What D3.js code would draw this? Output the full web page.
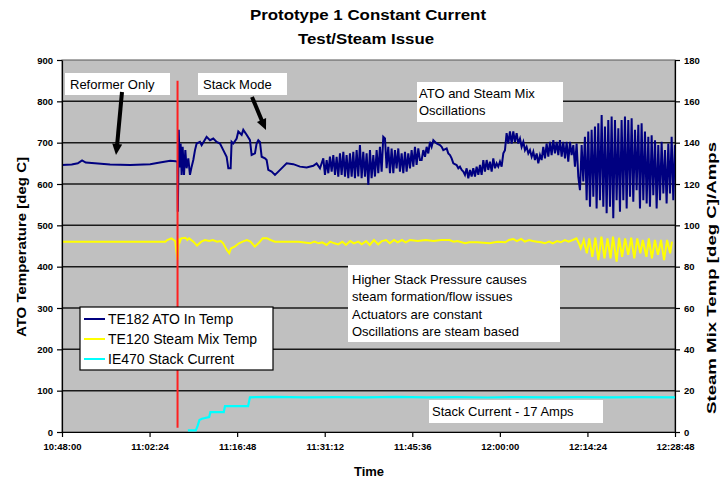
<!DOCTYPE html>
<html><head><meta charset="utf-8">
<script src="https://cdn.jsdelivr.net/npm/d3@7"></script>
<style>
html,body{margin:0;padding:0;background:#fff;}
svg{display:block;font-family:"Liberation Sans",Arial,sans-serif;}
</style></head>
<body>
<svg id="c" width="720" height="479"></svg>
<script>
// ---------- DATA ----------
const titleLines = ["Prototype 1 Constant Current", "Test/Steam Issue"];
const xTickLabels = ["10:48:00","11:02:24","11:16:48","11:31:12","11:45:36","12:00:00","12:14:24","12:28:48"];
const leftTicks = [0,100,200,300,400,500,600,700,800,900];
const rightTicks = [0,20,40,60,80,100,120,140,160,180];
const seriesNames = ["TE182 ATO In Temp","TE120 Steam Mix Temp","IE470 Stack Current"];
const seriesColors = ["#000080","#ffff00","#00ffff"];

// [minutes after 10:48:00, ATO temperature degC] (left axis)
const atoData = [[0,646],[1.6,647],[2.6,650],[3.3,657],[3.9,652],[5.4,650],[7.9,647],[11.2,646],[14.5,648],[16.1,652],[17.8,656],[18.7,655],[19.0,654],[19.05,533],[19.2,731],[19.35,640],[19.51,698],[19.67,622],[19.84,690],[20.06,622],[20.28,682],[20.49,638],[20.77,662],[21.04,622],[21.32,642],[21.59,658],[21.87,682],[22.14,698],[22.69,702],[22.96,694],[23.78,714],[24.33,706],[24.88,710],[25.43,702],[25.98,698],[26.52,682],[27.07,666],[27.35,638],[27.73,638],[27.89,702],[28.17,698],[28.72,710],[28.99,727],[29.54,719],[29.81,731],[30.36,719],[30.91,706],[31.18,670],[31.73,674],[32.0,698],[32.28,706],[32.55,702],[32.83,666],[33.38,662],[33.65,658],[33.92,634],[34.47,630],[35.02,622],[35.57,630],[36.39,642],[36.94,650],[38.03,648],[39.13,642],[40.23,640],[41.32,644],[41.87,650],[42.42,638],[42.97,662],[43.24,622],[43.52,658],[43.79,626],[44.06,666],[44.34,630],[44.61,670],[44.89,622],[45.16,666],[45.43,618],[45.71,674],[45.98,622],[46.26,678],[46.53,618],[46.80,670],[47.08,614],[47.35,674],[47.63,618],[47.90,678],[48.17,614],[48.45,682],[48.72,618],[48.99,694],[49.27,614],[49.54,678],[49.82,618],[50.09,674],[50.37,598],[50.64,682],[50.91,614],[51.19,670],[51.46,618],[51.74,682],[52.01,626],[52.28,690],[52.56,630],[52.83,714],[53.11,710],[53.38,638],[53.65,690],[53.93,626],[54.20,686],[54.48,626],[54.75,682],[55.02,638],[55.30,686],[55.57,630],[55.85,674],[56.12,626],[56.40,678],[56.67,630],[56.94,674],[57.22,638],[57.49,682],[57.77,642],[58.04,690],[58.31,646],[58.59,686],[58.86,658],[59.14,658],[59.41,682],[59.69,666],[59.96,690],[60.23,674],[60.51,702],[60.78,690],[61.06,706],[61.60,698],[62.15,694],[62.43,690],[62.70,682],[63.25,686],[63.52,674],[63.80,670],[64.07,662],[64.35,650],[64.89,646],[65.17,638],[65.44,642],[65.72,634],[65.99,630],[66.26,622],[66.54,638],[66.81,614],[67.09,634],[67.36,618],[67.63,638],[67.91,618],[68.18,642],[68.46,622],[68.73,646],[69.00,622],[69.28,658],[69.55,630],[69.83,658],[70.10,634],[70.37,654],[70.65,630],[70.92,662],[71.20,638],[71.47,650],[71.74,642],[72.02,654],[72.29,642],[72.57,674],[72.84,682],[73.11,723],[73.39,698],[73.66,727],[73.94,698],[74.21,727],[74.48,702],[74.76,723],[75.03,698],[75.31,710],[75.58,690],[75.86,702],[76.13,682],[76.40,690],[76.68,674],[76.95,682],[77.23,666],[77.50,678],[77.77,658],[78.05,674],[78.32,650],[78.60,670],[78.87,658],[79.14,690],[79.42,662],[79.69,698],[79.97,666],[80.24,702],[80.51,670],[80.79,706],[81.06,674],[81.34,702],[81.61,670],[81.88,706],[82.16,666],[82.43,702],[82.71,662],[82.98,702],[83.25,654],[83.53,702],[83.80,670],[84.08,694],[84.35,642],[84.62,698],[84.90,618],[85.17,585],[85.45,694],[85.72,606],[85.99,714],[86.27,561],[86.54,727],[86.82,545],[87.09,731],[87.37,569],[87.64,739],[87.91,541],[88.19,747],[88.46,561],[88.74,767],[89.01,545],[89.28,739],[89.56,529],[89.83,755],[90.11,545],[90.38,763],[90.65,517],[90.93,755],[91.20,561],[91.48,735],[91.75,533],[92.02,755],[92.30,561],[92.57,763],[92.85,541],[93.12,755],[93.40,569],[93.67,759],[93.94,557],[94.22,731],[94.49,585],[94.77,743],[95.04,541],[95.31,747],[95.59,561],[95.86,727],[96.14,553],[96.41,714],[96.68,545],[96.96,718],[97.23,573],[97.51,706],[97.78,541],[98.05,694],[98.33,561],[98.60,702],[98.88,577],[99.15,682],[99.42,553],[99.70,698],[99.97,577],[100.25,714],[100.52,561],[100.79,694]];

// [minutes, steam mix temp degC] (right axis)
const steamData = [[0,92.1],[17.0,92.1],[17.3,92.9],[18.0,93.7],[18.6,92.4],[19.0,83.2],[19.2,93.7],[19.3,91.3],[19.6,93.7],[20.3,94.0],[20.6,92.9],[20.9,93.7],[21.6,92.1],[22.2,90.2],[22.9,92.1],[23.5,92.9],[24.2,92.4],[24.8,92.9],[25.5,92.1],[26.1,92.4],[26.5,91.3],[27.1,88.1],[27.5,86.5],[27.8,88.9],[28.4,89.7],[29.1,91.3],[29.7,92.1],[30.4,92.9],[31.0,92.1],[31.7,89.7],[32.3,91.3],[33.0,93.7],[33.7,93.7],[34.3,92.9],[35.0,92.1],[38.9,92.1],[40.8,91.3],[41.5,92.1],[42.2,91.3],[42.8,91.8],[43.5,90.5],[44.1,92.1],[44.8,91.3],[45.4,90.8],[46.1,92.1],[46.7,90.5],[47.4,92.4],[48.0,91.3],[48.7,92.1],[49.3,90.8],[50.0,92.4],[50.6,90.5],[51.3,92.9],[52.0,90.8],[52.6,92.4],[53.3,92.9],[53.9,91.3],[54.6,92.9],[55.2,91.8],[55.9,92.9],[56.5,91.8],[57.2,92.9],[58.5,92.4],[59.8,92.9],[61.1,92.4],[62.4,92.9],[63.7,92.9],[64.4,92.1],[65.0,92.4],[66.3,91.3],[67.0,91.8],[68.3,91.8],[70.3,91.3],[71.6,92.1],[72.9,91.8],[73.5,92.9],[74.2,93.4],[74.8,92.4],[75.5,93.4],[76.1,92.1],[76.8,92.9],[77.4,92.4],[78.1,92.1],[78.8,91.8],[79.4,91.3],[80.1,92.1],[80.7,91.3],[81.4,92.4],[82.0,91.8],[82.7,92.9],[83.3,92.1],[84.0,92.9],[84.6,93.7],[85.0,91.3],[85.3,88.9],[85.8,92.9],[86.3,86.5],[86.7,93.7],[87.2,84.8],[87.7,94.0],[88.2,83.2],[88.7,94.5],[89.2,84.0],[89.7,93.7],[90.2,84.0],[90.6,94.5],[91.2,82.4],[91.6,94.0],[92.1,84.8],[92.6,93.7],[93.1,85.7],[93.6,94.0],[94.1,84.0],[94.6,93.7],[95.1,86.5],[95.5,92.9],[96.1,84.8],[96.5,93.7],[97.0,84.0],[97.5,92.9],[98.0,85.7],[98.5,92.9],[99.0,83.2],[99.5,92.9],[100.0,86.5],[100.3,92.1]];

// [minutes, stack current A] (right axis)
const currentData = [[20.7,0.8],[22.0,0.8],[22.3,3],[22.6,5.8],[23.0,6.4],[24.2,7.2],[24.4,9.6],[26.6,9.6],[26.8,12.5],[30.6,12.5],[30.9,16.8],[35,17.0],[40,16.8],[45,16.9],[50,16.8],[55,17.0],[60,16.8],[65,16.9],[70,16.7],[75,16.9],[80,16.8],[85,16.9],[90,16.8],[95,16.9],[100.8,16.8]];

// red marker: stack mode start [minutes, from, to] on left axis
const markerLine = [19.0, 10, 850];

// ---------- CHART ----------
const svg = d3.select("#c");
const L = 62, R = 675, T = 60, B = 432;
const parse = d3.timeParse("%H:%M:%S");
const base = parse(xTickLabels[0]);
const toDate = m => new Date(base.getTime() + m * 60000);

const x = d3.scaleTime().domain([base, parse(xTickLabels[xTickLabels.length-1])]).range([L, R]);
const yL = d3.scaleLinear().domain([0, 900]).range([B, T]);
const yR = d3.scaleLinear().domain([0, 180]).range([B, T]);

// plot background
svg.append("rect").attr("x", L).attr("y", T).attr("width", R - L).attr("height", B - T)
  .attr("fill", "#c0c0c0").attr("stroke", "#555").attr("stroke-width", 1);

// gridlines
svg.append("g").selectAll("line").data(leftTicks.filter(d => d > 0 && d < 900)).join("line")
  .attr("x1", L).attr("x2", R).attr("y1", d => yL(d)).attr("y2", d => yL(d))
  .attr("stroke", "#1a1a1a").attr("stroke-width", 1.5);

// series
const lineL = d3.line().x(d => x(toDate(d[0]))).y(d => yL(d[1]));
const lineR = d3.line().x(d => x(toDate(d[0]))).y(d => yR(d[1]));
svg.append("path").datum(steamData).attr("d", lineR).attr("fill", "none")
  .attr("stroke", seriesColors[1]).attr("stroke-width", 2);
svg.append("path").datum(currentData).attr("d", lineR).attr("fill", "none")
  .attr("stroke", seriesColors[2]).attr("stroke-width", 2.2);
svg.append("path").datum(atoData).attr("d", lineL).attr("fill", "none")
  .attr("stroke", seriesColors[0]).attr("stroke-width", 2).attr("stroke-linejoin", "miter");

// red marker line
svg.append("line").attr("x1", x(toDate(markerLine[0]))).attr("x2", x(toDate(markerLine[0])))
  .attr("y1", yL(markerLine[2])).attr("y2", yL(markerLine[1]))
  .attr("stroke", "#ff2020").attr("stroke-width", 2);

// axes
const axStyle = g => {
  g.selectAll("path").attr("stroke", "#000").attr("stroke-width", 1.2);
  g.selectAll("line").attr("stroke", "#000").attr("stroke-width", 1.2);
  g.selectAll("text").attr("font-size", 9.5).attr("font-weight", "bold")
    .attr("font-family", "'Liberation Sans',Arial,sans-serif").attr("fill", "#000");
};
svg.append("g").attr("transform", `translate(${L},0)`)
  .call(d3.axisLeft(yL).tickValues(leftTicks).tickSize(5).tickPadding(4).tickSizeOuter(0)).call(axStyle);
svg.append("g").attr("transform", `translate(${R},0)`)
  .call(d3.axisRight(yR).tickValues(rightTicks).tickSize(5).tickPadding(4).tickSizeOuter(0)).call(axStyle);
svg.append("g").attr("transform", `translate(0,${B})`)
  .call(d3.axisBottom(x).tickValues(xTickLabels.map(parse)).tickFormat(d3.timeFormat("%H:%M:%S"))
    .tickSize(5).tickPadding(6).tickSizeOuter(0)).call(axStyle);

// titles
svg.append("text").attr("x", 368).attr("y", 20).attr("text-anchor", "middle")
  .attr("font-size", 14).attr("font-weight", "bold").attr("textLength", 236).attr("lengthAdjust", "spacingAndGlyphs").text(titleLines[0]);
svg.append("text").attr("x", 366).attr("y", 44).attr("text-anchor", "middle")
  .attr("font-size", 14).attr("font-weight", "bold").attr("textLength", 136).attr("lengthAdjust", "spacingAndGlyphs").text(titleLines[1]);
svg.append("text").attr("x", 369).attr("y", 476).attr("text-anchor", "middle")
  .attr("font-size", 13).attr("font-weight", "bold").text("Time");
svg.append("text").attr("transform", "translate(26,247) rotate(-90)").attr("text-anchor", "middle")
  .attr("font-size", 13).attr("font-weight", "bold").attr("textLength", 180).attr("lengthAdjust", "spacingAndGlyphs").text("ATO Temperature [deg C]");
svg.append("text").attr("transform", "translate(716,278) rotate(-90)").attr("text-anchor", "middle")
  .attr("font-size", 13).attr("font-weight", "bold").attr("textLength", 272).attr("lengthAdjust", "spacingAndGlyphs").text("Steam Mix Temp [deg C]/Amps");

// annotations
const notes = [
  {box:[65,73,105,22], lines:["Reformer Only"], tx:70, ty:89},
  {box:[198,73,89,22], lines:["Stack Mode"], tx:203, ty:89},
  {box:[417,82,146,40], lines:["ATO  and Steam Mix","Oscillations"], tx:419, ty:98},
  {box:[348,265,212,77], lines:["Higher Stack Pressure causes","steam formation/flow issues","Actuators are constant","Oscillations are steam based"], tx:352, ty:284},
  {box:[429,400,174,23], lines:["Stack Current - 17 Amps"], tx:432, ty:416}
];
notes.forEach(n => {
  svg.append("rect").attr("x", n.box[0]).attr("y", n.box[1]).attr("width", n.box[2]).attr("height", n.box[3]).attr("fill", "#fff");
  n.lines.forEach((s, i) => svg.append("text").attr("x", n.tx).attr("y", n.ty + i * 17.3)
    .attr("font-size", 13).attr("fill", "#000").text(s));
});

// arrows
const arrows = [[[122,92],[117,146],[116,155]], [[252,97],[262,121],[266,130]]];
arrows.forEach(a => {
  svg.append("line").attr("x1", a[0][0]).attr("y1", a[0][1]).attr("x2", a[1][0]).attr("y2", a[1][1])
    .attr("stroke", "#000").attr("stroke-width", 4);
  const dx = a[2][0] - a[1][0], dy = a[2][1] - a[1][1], len = Math.hypot(dx, dy);
  const ux = dx / len, uy = dy / len, px = -uy, py = ux, w = 5;
  const bx = a[2][0] - ux * 11, by = a[2][1] - uy * 11;
  svg.append("polygon").attr("points", `${a[2][0]},${a[2][1]} ${bx + px*w},${by + py*w} ${bx - px*w},${by - py*w}`).attr("fill", "#000");
});

// legend
const lg = svg.append("g");
lg.append("rect").attr("x", 80).attr("y", 307).attr("width", 193).attr("height", 63)
  .attr("fill", "#fff").attr("stroke", "#000").attr("stroke-width", 1.2);
seriesNames.forEach((s, i) => {
  const yy = 319 + i * 20;
  lg.append("line").attr("x1", 84).attr("x2", 105).attr("y1", yy).attr("y2", yy)
    .attr("stroke", seriesColors[i]).attr("stroke-width", 2);
  lg.append("text").attr("x", 108).attr("y", yy + 5).attr("font-size", 14).attr("fill", "#000").text(s);
});
</script>
</body></html>
